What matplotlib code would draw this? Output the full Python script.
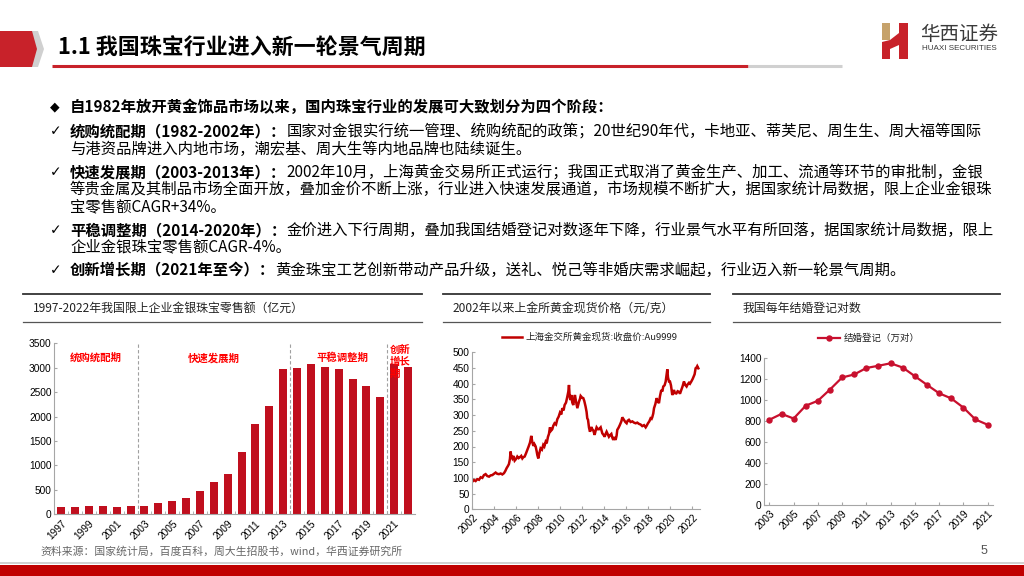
import matplotlib
matplotlib.use('Agg')
import matplotlib.pyplot as plt
from matplotlib.patches import Polygon, Rectangle
from matplotlib.lines import Line2D

CJK = 'Noto Sans CJK SC'
NUM = 'Liberation Sans'
RED = '#C00000'
BAR_RED = '#C00F1E'

# ─── data ───────────────────────────────────────────────────────────────────
retail_years = list(range(1997, 2023))
retail_sales = [157, 150, 164, 164, 157, 164, 177, 225, 266, 341, 477, 655, 825,
                1276, 1849, 2224, 2974, 2988, 3076, 3008, 2981, 2770, 2619, 2394,
                3070, 3022]
stage_breaks = [2002.5, 2013.5, 2020.5]

gold_years = [
    2002.00, 2002.15, 2002.30, 2002.45, 2002.61, 2002.76, 2002.91, 2003.06, 2003.21, 2003.36,
    2003.52, 2003.67, 2003.82, 2003.97, 2004.12, 2004.27, 2004.42, 2004.58, 2004.73, 2004.88,
    2005.00, 2005.12, 2005.24, 2005.33, 2005.42, 2005.48, 2005.55, 2005.64, 2005.73, 2005.85,
    2005.97, 2006.09, 2006.21, 2006.33, 2006.45, 2006.55, 2006.64, 2006.76, 2006.88, 2007.00,
    2007.12, 2007.24, 2007.30, 2007.36, 2007.45, 2007.55, 2007.64, 2007.76, 2007.85, 2007.91,
    2008.00, 2008.09, 2008.21, 2008.33, 2008.45, 2008.55, 2008.67, 2008.76, 2008.88, 2008.97,
    2009.06, 2009.15, 2009.27, 2009.36, 2009.48, 2009.61, 2009.73, 2009.85, 2009.97, 2010.09,
    2010.18, 2010.30, 2010.39, 2010.52, 2010.64, 2010.73, 2010.79, 2010.85, 2010.91, 2011.00,
    2011.09, 2011.18, 2011.27, 2011.33, 2011.42, 2011.55, 2011.64, 2011.70, 2011.79, 2011.85,
    2011.97, 2012.09, 2012.18, 2012.30, 2012.39, 2012.45, 2012.52, 2012.61, 2012.70, 2012.82,
    2012.91, 2013.00, 2013.12, 2013.21, 2013.30, 2013.42, 2013.52, 2013.67, 2013.82, 2013.97,
    2014.03, 2014.12, 2014.21, 2014.33, 2014.42, 2014.52, 2014.64, 2014.73, 2014.82, 2014.91,
    2015.03, 2015.12, 2015.18, 2015.30, 2015.42, 2015.55, 2015.64, 2015.73, 2015.79, 2015.91,
    2016.03, 2016.12, 2016.24, 2016.39, 2016.55, 2016.70, 2016.85, 2017.00, 2017.15, 2017.30,
    2017.45, 2017.61, 2017.76, 2017.85, 2017.97, 2018.09, 2018.21, 2018.30, 2018.36, 2018.45,
    2018.52, 2018.64, 2018.76, 2018.85, 2018.97, 2019.06, 2019.18, 2019.27, 2019.36, 2019.48,
    2019.58, 2019.67, 2019.73, 2019.79, 2019.88, 2019.97, 2020.06, 2020.18, 2020.27, 2020.33,
    2020.42, 2020.55, 2020.67, 2020.79, 2020.88, 2021.00, 2021.12, 2021.24, 2021.36, 2021.48,
    2021.58, 2021.70, 2021.79, 2021.91, 2022.03, 2022.15, 2022.21, 2022.30, 2022.39, 2022.45,
    2022.55,
]
gold_price = [
    88, 93, 90, 96, 94, 102, 100, 109, 112, 106,
    104, 108, 109, 113, 117, 113, 112, 114, 111, 115,
    122, 131, 138, 144, 160, 184, 168, 162, 170, 155,
    160, 168, 163, 166, 170, 162, 166, 168, 178, 189,
    200, 212, 222, 234, 215, 202, 208, 200, 185, 173,
    162, 178, 194, 190, 205, 200, 215, 210, 231, 240,
    261, 250, 255, 266, 274, 270, 287, 295, 308, 302,
    322, 315, 332, 340, 359, 375, 396, 360, 348, 364,
    340, 332, 355, 364, 345, 322, 335, 343, 352, 361,
    356, 354, 345, 327, 310, 290, 285, 260, 247, 262,
    255, 251, 237, 250, 261, 255, 255, 261, 242, 235,
    231, 240, 247, 238, 231, 236, 240, 228, 221, 230,
    221, 235, 253, 260, 269, 280, 293, 288, 285, 278,
    274, 282, 285, 278, 280, 276, 274, 276, 272, 270,
    265, 268, 261, 266, 274, 280, 290, 288, 293, 305,
    322, 335, 354, 345, 338, 360, 380, 375, 391, 395,
    407, 430, 446, 420, 407, 407, 395, 364, 372, 380,
    370, 369, 376, 374, 368, 380, 392, 407, 396, 391,
    398, 403, 400, 407, 415, 425, 430, 449, 452, 456,
    449,
]

marriage_years = list(range(2003, 2022))
marriage_pairs = [811.4, 867.2, 823.1, 945.0, 991.4, 1098.3, 1212.4, 1241.0,
                  1302.4, 1323.6, 1346.9, 1306.7, 1224.7, 1142.8, 1063.1,
                  1013.9, 927.3, 814.3, 764.3]

# ─── canvas: one full-size overlay axes in pixel coordinates ─────────────────
W, H = 1024, 576
fig = plt.figure(figsize=(W / 100, H / 100), dpi=100)
fig.patch.set_facecolor('white')
bg = fig.add_axes([0, 0, 1, 1])
bg.set_xlim(0, W)
bg.set_ylim(H, 0)
bg.axis('off')
renderer = fig.canvas.get_renderer()

# header band + title
bg.add_patch(Polygon([(29, 31), (38, 31), (44, 49), (38, 67), (29, 67), (34, 49)],
                     closed=True, color='#D0D0D0', lw=0))
bg.add_patch(Polygon([(0, 31), (32, 31), (37, 49), (32, 67), (0, 67)],
                     closed=True, color='#C8222A', lw=0))
bg.text(58, 48, '1.1 我国珠宝行业进入新一轮景气周期', family=CJK, fontsize=15.8,
        fontweight='bold', va='center', ha='left', color='black')
bg.plot([52, 748], [65.5, 65.5], color='#C8222A', lw=2.2, solid_capstyle='butt')
bg.plot([748, 842], [65.5, 65.5], color='#D0D0D0', lw=2.2, solid_capstyle='butt')

# logo
bg.add_patch(Rectangle((882, 23), 8, 17, color='#C6A26B', lw=0))
bg.add_patch(Polygon([(882, 59), (882, 42), (890, 40), (899, 33), (899, 23), (908, 23),
                      (908, 59), (899, 59), (899, 45), (890, 49), (890, 59)],
                     closed=True, color='#C8222A', lw=0))
bg.text(959, 34, '华西证券', family=CJK, fontsize=14, ha='center', va='center',
        color='#3A3A3A')
bg.text(959, 48.5, 'HUAXI SECURITIES', family=NUM, fontsize=5.8, ha='center',
        va='center', color='#3A3A3A')

# ─── bullet text ────────────────────────────────────────────────────────────
BODY = 11.05
body_lines = [
    (107, '◆', [('自1982年放开黄金饰品市场以来，国内珠宝行业的发展可大致划分为四个阶段：', True)]),
    (131, '✓', [('统购统配期（1982-2002年）：', True),
                ('国家对金银实行统一管理、统购统配的政策；20世纪90年代，卡地亚、蒂芙尼、周生生、周大福等国际', False)]),
    (149, None, [('与港资品牌进入内地市场，潮宏基、周大生等内地品牌也陆续诞生。', False)]),
    (172, '✓', [('快速发展期（2003-2013年）：', True),
                ('2002年10月，上海黄金交易所正式运行；我国正式取消了黄金生产、加工、流通等环节的审批制，金银', False)]),
    (189, None, [('等贵金属及其制品市场全面开放，叠加金价不断上涨，行业进入快速发展通道，市场规模不断扩大，据国家统计局数据，限上企业金银珠', False)]),
    (207, None, [('宝零售额CAGR+34%。', False)]),
    (230, '✓', [('平稳调整期（2014-2020年）：', True),
                ('金价进入下行周期，叠加我国结婚登记对数逐年下降，行业景气水平有所回落，据国家统计局数据，限上', False)]),
    (247, None, [('企业金银珠宝零售额CAGR-4%。', False)]),
    (270, '✓', [('创新增长期（2021年至今）：', True),
                ('黄金珠宝工艺创新带动产品升级，送礼、悦己等非婚庆需求崛起，行业迈入新一轮景气周期。', False)]),
]
for y, bullet, parts in body_lines:
    if bullet:
        bg.text(50, y, bullet, family=['DejaVu Sans'], fontsize=9 if bullet == '◆' else 10,
                ha='left', va='center', color='black')
    x = 70
    for s, bold in parts:
        t = bg.text(x, y, s, family=[CJK, 'DejaVu Sans'], fontsize=BODY,
                    fontweight='bold' if bold else 'normal', ha='left', va='center',
                    color='black')
        x += t.get_window_extent(renderer).width

# ─── chart title boxes ──────────────────────────────────────────────────────
chart_titles = [
    (23, 422, 33, '1997-2022年我国限上企业金银珠宝零售额（亿元）'),
    (443, 710, 453, '2002年以来上金所黄金现货价格（元/克）'),
    (733, 1000, 743, '我国每年结婚登记对数'),
]
for x0, x1, tx, s in chart_titles:
    bg.plot([x0, x1], [294, 294], color='#333333', lw=1.3)
    bg.plot([x0, x1], [321.5, 321.5], color='#555555', lw=0.9)
    bg.text(tx, 308, s, family=[CJK], fontsize=8.6, ha='left', va='center', color='#222222')


def px_axes(x0, y0, x1, y1):
    return fig.add_axes([x0 / W, 1 - y1 / H, (x1 - x0) / W, (y1 - y0) / H])


def style(ax):
    for side in ('top', 'right'):
        ax.spines[side].set_visible(False)
    for side in ('left', 'bottom'):
        ax.spines[side].set_color('#A6A6A6')
        ax.spines[side].set_linewidth(0.8)
    ax.tick_params(axis='both', which='both', direction='in', length=2.5,
                   color='#A6A6A6', labelsize=7.3, pad=2)
    for lbl in ax.get_yticklabels():
        lbl.set_family(NUM)
    ax.set_facecolor('none')


# ─── chart 1: retail sales bars ─────────────────────────────────────────────
ax1 = px_axes(54.3, 343.3, 415, 514.3)
ax1.bar(retail_years, retail_sales, width=0.58, color=BAR_RED, zorder=2)
ax1.set_xlim(1996.5, 2022.5)
ax1.set_ylim(0, 3500)
ax1.set_yticks(range(0, 3501, 500))
for b in stage_breaks:
    ax1.axvline(b, color='#A0A0A0', lw=0.8, ls=(0, (3, 2)), zorder=1)
ax1.set_xticks(retail_years[::2])
ax1.set_xticklabels([str(y) for y in retail_years[::2]], rotation=45, ha='right',
                    va='top', rotation_mode='anchor', family=NUM, fontsize=7.3)
ax1.set_xticks([y + 0.5 for y in retail_years[:-1]], minor=True)
style(ax1)
ax1.tick_params(axis='x', which='major', length=0, pad=3)
stage_kw = dict(family=[CJK], fontsize=7.5, fontweight='bold', color='#FF0000',
                va='center', zorder=3)
ax1.text(1999.5, 3200, '统购统配期', ha='center', **stage_kw)
ax1.text(2008.0, 3200, '快速发展期', ha='center', **stage_kw)
ax1.text(2017.3, 3200, '平稳调整期', ha='center', **stage_kw)
ax1.text(2020.68, 3120, '创新\n增长\n期', ha='left', linespacing=1.25, **stage_kw)

# ─── chart 2: gold spot price ───────────────────────────────────────────────
ax2 = px_axes(472.3, 352.3, 700, 509.3)
ax2.plot(gold_years, gold_price, color=RED, lw=1.8, solid_joinstyle='miter')
ax2.set_xlim(2002, 2022.7)
ax2.set_ylim(0, 500)
ax2.set_yticks(range(0, 501, 50))
ax2.set_xticks(range(2002, 2023, 2))
ax2.set_xticklabels([str(y) for y in range(2002, 2023, 2)], rotation=45, ha='right',
                    va='top', rotation_mode='anchor', family=NUM, fontsize=7.3)
style(ax2)
bg.add_line(Line2D([502, 522], [337, 337], color=RED, lw=1.8))
bg.text(525, 337, '上海金交所黄金现货:收盘价:Au9999', family=[CJK, 'DejaVu Sans'],
        fontsize=6.8, ha='left', va='center', color='#222222')

# ─── chart 3: marriage registrations ────────────────────────────────────────
ax3 = px_axes(764.3, 357.7, 993, 505.3)
ax3.plot(marriage_years, marriage_pairs, color='#C8102E', lw=1.6, marker='o',
         markersize=3.6, markerfacecolor='#C8102E', markeredgecolor='#C8102E')
ax3.set_xlim(2002.58, 2021.45)
ax3.set_ylim(0, 1400)
ax3.set_yticks(range(0, 1401, 200))
ax3.set_xticks(marriage_years[::2])
ax3.set_xticklabels([str(y) for y in marriage_years[::2]], rotation=45, ha='right',
                    va='top', rotation_mode='anchor', family=NUM, fontsize=7.3)
style(ax3)
bg.add_line(Line2D([818, 829, 840], [338, 338, 338], color='#C8102E', lw=1.6,
                   marker='o', markersize=3.6, markevery=[1]))
bg.text(844, 338, '结婚登记（万对）', family=[CJK], fontsize=6.8, ha='left',
        va='center', color='#222222')

# ─── footer ─────────────────────────────────────────────────────────────────
bg.text(40, 552, '资料来源：国家统计局，百度百科，周大生招股书，wind，华西证券研究所',
        family=[CJK, 'DejaVu Sans'], fontsize=7.8, ha='left', va='center', color='#666666')
bg.text(984, 551, '5', family=NUM, fontsize=9, ha='center', va='center', color='#555555')
bg.plot([0, W], [562.5, 562.5], color='#C8C8C8', lw=1.2)
bg.add_patch(Rectangle((0, 564.5), W, 12, color='#C00000', lw=0))

fig.savefig('out.png', dpi=100)
